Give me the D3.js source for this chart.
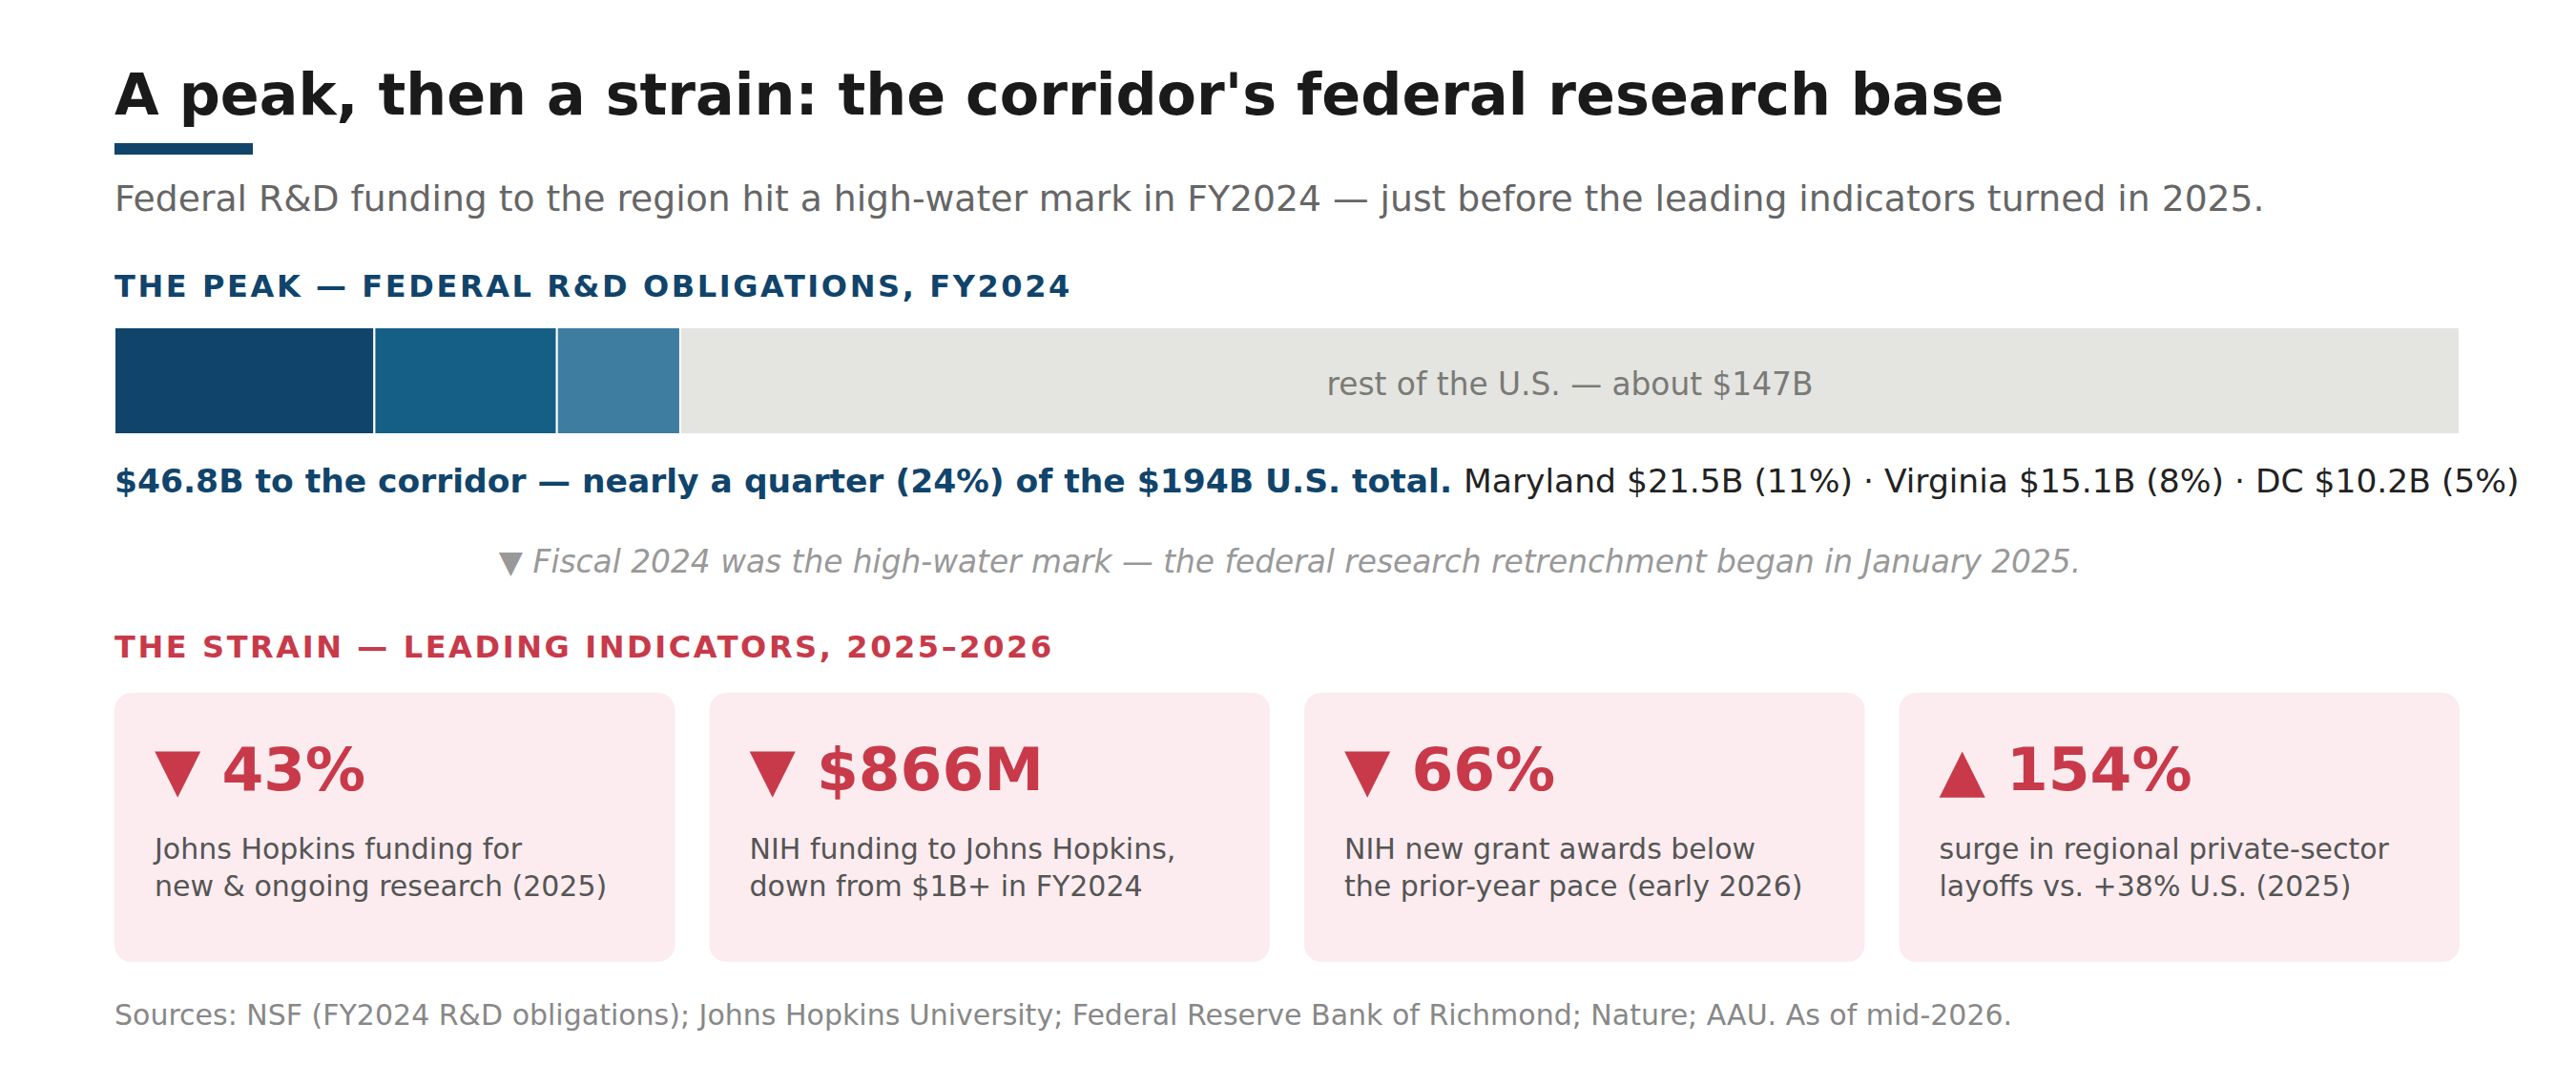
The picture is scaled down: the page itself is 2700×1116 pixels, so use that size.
<!DOCTYPE html>
<html>
<head>
<meta charset="utf-8">
<script src="https://cdn.jsdelivr.net/npm/d3@7"></script>
<style>
  html, body { margin: 0; padding: 0; background: #fff; }
  svg { display: block; font-family: 'DejaVu Sans', sans-serif; }
</style>
</head>
<body>
<div id="chart"></div>
<script>
// FY2024 federal R&D obligations, $B
const regions = ['Maryland', 'Virginia', 'DC', 'rest of the U.S.']
const obligations = [21.5, 15.1, 10.2, 147.2]
const shares = ['11%', '8%', '5%']
const usTotal = 194
const corridorTotal = 46.8

// leading indicators
const indicatorValues = ['43%', '$866M', '66%', '154%']
const indicatorDirections = ['down', 'down', 'down', 'up']
const indicatorLine1 = [
  'Johns Hopkins funding for',
  'NIH funding to Johns Hopkins,',
  'NIH new grant awards below',
  'surge in regional private-sector'
]
const indicatorLine2 = [
  'new & ongoing research (2025)',
  'down from $1B+ in FY2024',
  'the prior-year pace (early 2026)',
  'layoffs vs. +38% U.S. (2025)'
]

const segmentColors = ['#10446b', '#155f86', '#3e7ca0', '#e4e4e0']
const navy = '#10446b'
const red = '#c83a4a'

const width = 2700
const height = 1116
const left = 120
const right = 2578

const svg = d3.select('#chart')
  .append('svg')
  .attr('width', width)
  .attr('height', height)

// header
svg.append('text')
  .attr('x', left)
  .attr('y', 120)
  .attr('font-size', 60.3)
  .attr('font-weight', 'bold')
  .attr('fill', '#1a1a1a')
  .text("A peak, then a strain: the corridor's federal research base")

svg.append('rect')
  .attr('x', left)
  .attr('y', 150)
  .attr('width', 145)
  .attr('height', 12)
  .attr('fill', navy)

svg.append('text')
  .attr('x', left)
  .attr('y', 221)
  .attr('font-size', 37.7)
  .attr('fill', '#666')
  .text('Federal R&D funding to the region hit a high-water mark in FY2024 \u2014 just before the leading indicators turned in 2025.')

// the peak
svg.append('text')
  .attr('x', left)
  .attr('y', 311)
  .attr('font-size', 32)
  .attr('font-weight', 'bold')
  .attr('letter-spacing', 2.6)
  .attr('fill', navy)
  .text('THE PEAK \u2014 FEDERAL R&D OBLIGATIONS, FY2024')

const x = d3.scaleLinear()
  .domain([0, usTotal])
  .range([left, right])

const stacked = d3.cumsum(obligations)
const segments = obligations.map((v, i) => ({
  name: regions[i],
  value: v,
  x0: i === 0 ? 0 : stacked[i - 1],
  x1: stacked[i]
}))

const barY = 343
const barH = 112

svg.append('g')
  .selectAll('rect')
  .data(segments)
  .join('rect')
  .attr('x', d => x(d.x0))
  .attr('y', barY)
  .attr('width', d => x(d.x1) - x(d.x0))
  .attr('height', barH)
  .attr('fill', (d, i) => segmentColors[i])
  .attr('stroke', '#fff')
  .attr('stroke-width', 2)

const rest = segments[3]
svg.append('text')
  .attr('x', (x(rest.x0) + x(rest.x1)) / 2)
  .attr('y', barY + barH / 2 + 15)
  .attr('text-anchor', 'middle')
  .attr('font-size', 32.8)
  .attr('fill', '#7a7a76')
  .text(`rest of the U.S. \u2014 about $${Math.round(rest.value)}B`)

const summary = svg.append('text')
  .attr('x', left)
  .attr('y', 516)
  .attr('font-size', 34.5)

summary.append('tspan')
  .attr('font-weight', 'bold')
  .attr('fill', navy)
  .text(`$${corridorTotal}B to the corridor \u2014 nearly a quarter (${Math.round(corridorTotal / usTotal * 100)}%) of the $${usTotal}B U.S. total. `)

summary.append('tspan')
  .attr('fill', '#222')
  .text(regions.slice(0, 3).map((r, i) => `${r} $${obligations[i]}B (${shares[i]})`).join(' \u00b7 '))

const note = svg.append('text')
  .attr('x', (left + right) / 2 + 3)
  .attr('y', 600)
  .attr('text-anchor', 'middle')
  .attr('font-size', 32.8)
  .attr('fill', '#999')

note.append('tspan').text('\u25bc ')
note.append('tspan')
  .attr('font-style', 'italic')
  .text('Fiscal 2024 was the high-water mark \u2014 the federal research retrenchment began in January 2025.')

// the strain
svg.append('text')
  .attr('x', left)
  .attr('y', 689)
  .attr('font-size', 32)
  .attr('font-weight', 'bold')
  .attr('letter-spacing', 2.6)
  .attr('fill', red)
  .text('THE STRAIN \u2014 LEADING INDICATORS, 2025\u20132026')

const gap = 36
const cardW = (right - left - gap * 3) / 4
const cardY = 726
const cardH = 282

const cards = svg.append('g')
  .selectAll('g')
  .data(indicatorValues.map((v, i) => ({
    value: v,
    dir: indicatorDirections[i],
    l1: indicatorLine1[i],
    l2: indicatorLine2[i]
  })))
  .join('g')
  .attr('transform', (d, i) => `translate(${left + i * (cardW + gap)}, ${cardY})`)

cards.append('rect')
  .attr('width', cardW)
  .attr('height', cardH)
  .attr('rx', 18)
  .attr('fill', '#fcecef')

cards.append('text')
  .attr('x', 42)
  .attr('y', 102)
  .attr('font-size', 63)
  .attr('font-weight', 'bold')
  .attr('fill', red)
  .text(d => `${d.dir === 'up' ? '\u25b2' : '\u25bc'} ${d.value}`)

cards.append('text')
  .attr('x', 42)
  .attr('y', 174)
  .attr('font-size', 30)
  .attr('fill', '#555')
  .text(d => d.l1)

cards.append('text')
  .attr('x', 42)
  .attr('y', 213)
  .attr('font-size', 30)
  .attr('fill', '#555')
  .text(d => d.l2)

svg.append('text')
  .attr('x', left)
  .attr('y', 1074)
  .attr('font-size', 30)
  .attr('fill', '#888')
  .text('Sources: NSF (FY2024 R&D obligations); Johns Hopkins University; Federal Reserve Bank of Richmond; Nature; AAU. As of mid-2026.')
</script>
</body>
</html>
